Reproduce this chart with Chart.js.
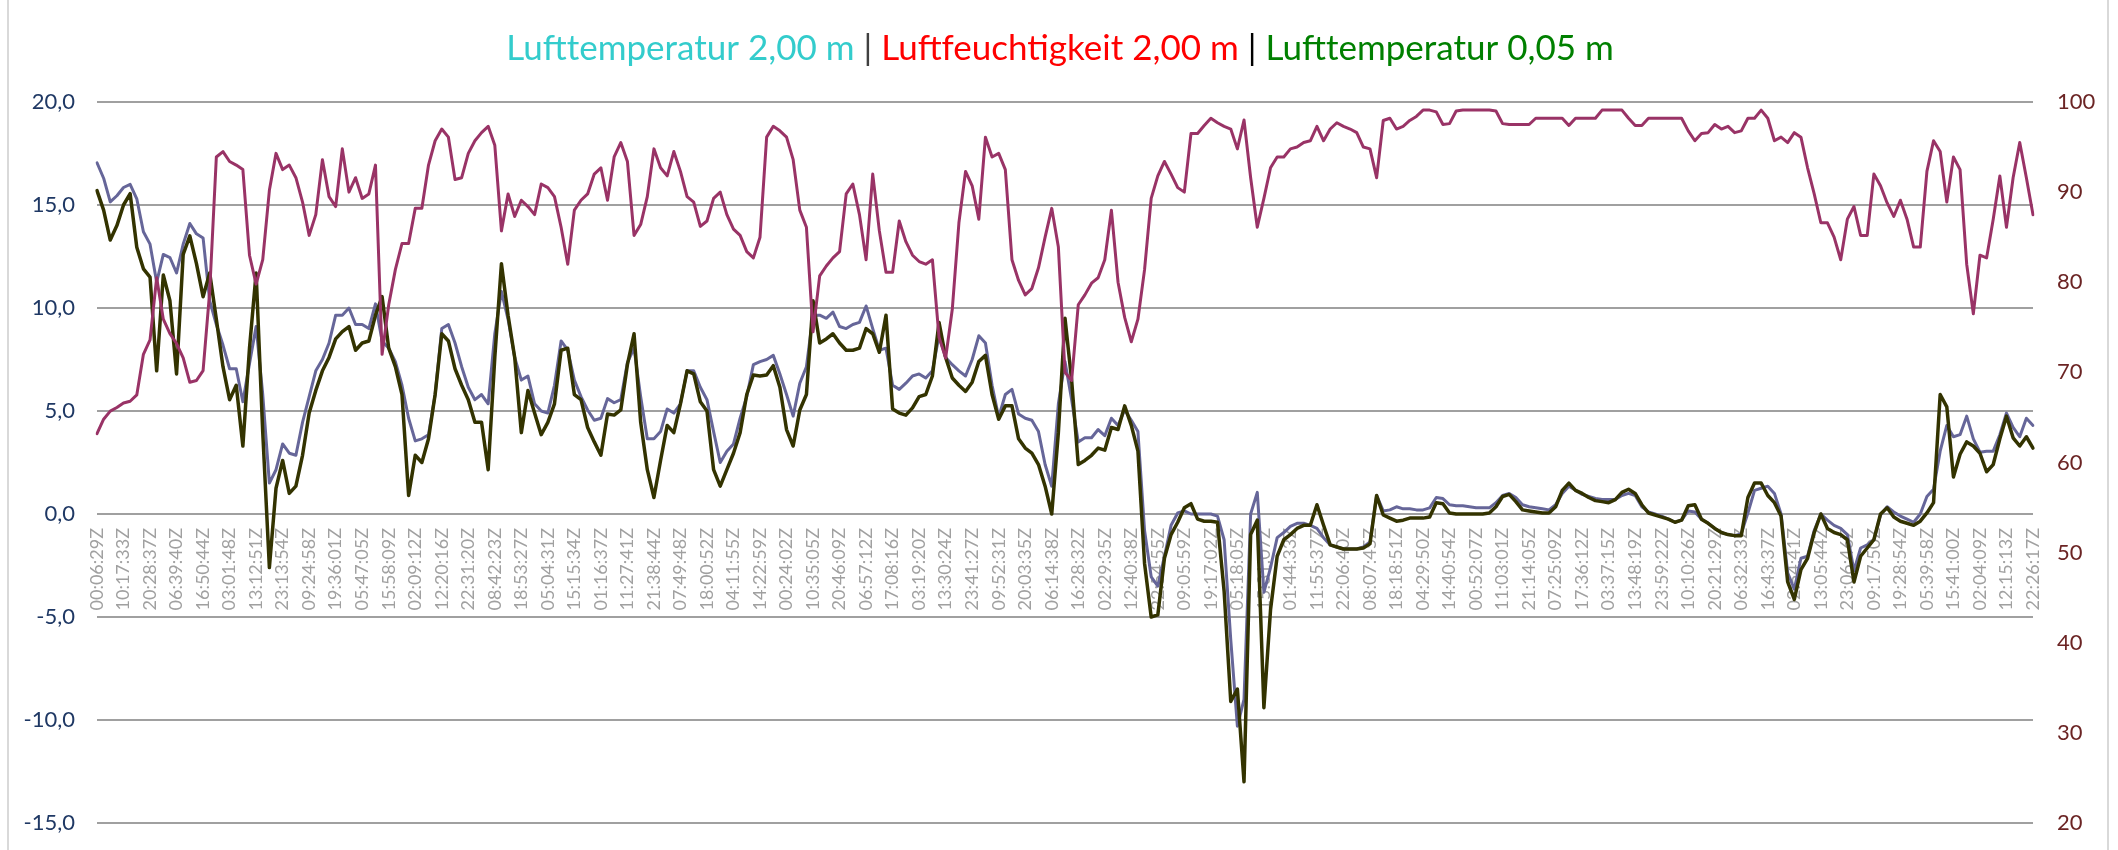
<!DOCTYPE html>
<html>
<head>
<meta charset="utf-8">
<script src="https://cdn.jsdelivr.net/npm/chart.js@4.4.1/dist/chart.umd.min.js"></script>
<style>
  html, body { margin: 0; padding: 0; background: #fff; }
  #wrap { position: relative; width: 2118px; height: 850px; }
</style>
</head>
<body>
<div id="wrap"><canvas id="chart"></canvas></div>
<script>
// x axis: one label every 4 readings
const tickLabels = [
  "00:06:29Z","10:17:33Z","20:28:37Z","06:39:40Z","16:50:44Z","03:01:48Z","13:12:51Z","23:13:54Z","09:24:58Z","19:36:01Z",
  "05:47:05Z","15:58:09Z","02:09:12Z","12:20:16Z","22:31:20Z","08:42:23Z","18:53:27Z","05:04:31Z","15:15:34Z","01:16:37Z",
  "11:27:41Z","21:38:44Z","07:49:48Z","18:00:52Z","04:11:55Z","14:22:59Z","00:24:02Z","10:35:05Z","20:46:09Z","06:57:12Z",
  "17:08:16Z","03:19:20Z","13:30:24Z","23:41:27Z","09:52:31Z","20:03:35Z","06:14:38Z","16:28:32Z","02:29:35Z","12:40:38Z",
  "22:54:55Z","09:05:59Z","19:17:02Z","05:18:05Z","15:31:07Z","01:44:33Z","11:55:37Z","22:06:40Z","08:07:45Z","18:18:51Z",
  "04:29:50Z","14:40:54Z","00:52:07Z","11:03:01Z","21:14:05Z","07:25:09Z","17:36:12Z","03:37:15Z","13:48:19Z","23:59:22Z",
  "10:10:26Z","20:21:29Z","06:32:33Z","16:43:37Z","02:54:41Z","13:05:44Z","23:06:46Z","09:17:50Z","19:28:54Z","05:39:58Z",
  "15:41:00Z","02:04:09Z","12:15:13Z","22:26:17Z"
];
const pointsPerTick = 4;

// Lufttemperatur 2,00 m (left axis, °C)
const temp200 = [
  17.05,16.3,15.15,15.45,15.85,16.0,15.3,13.7,13.1,11.25,
  12.6,12.45,11.7,13.1,14.1,13.6,13.4,10.35,9.2,8.2,
  7.05,7.05,5.45,7.3,9.1,5.8,1.5,2.15,3.4,2.95,
  2.85,4.45,5.7,6.95,7.5,8.3,9.65,9.65,10.0,9.2,
  9.2,9.0,10.2,8.4,8.05,7.4,6.25,4.65,3.55,3.65,
  3.85,5.8,9.0,9.2,8.3,7.15,6.15,5.55,5.8,5.35,
  8.75,10.8,9.45,7.6,6.5,6.7,5.35,5.0,4.9,6.25,
  8.4,7.95,6.5,
  5.7,5.05,4.55,4.65,5.6,5.4,5.55,7.35,8.05,5.7,
  3.65,3.65,4.0,5.1,4.9,5.35,6.95,6.95,6.15,5.55,
  4.0,2.5,3.05,3.4,4.65,5.7,7.25,7.4,7.5,7.7,
  6.8,5.8,4.75,6.35,7.15,9.65,9.65,9.5,9.8,9.1,
  9.0,9.2,9.3,10.1,9.0,7.95,8.05,6.25,6.05,6.35,
  6.7,6.8,6.6,6.95,8.65,7.6,7.25,6.95,6.7,7.5,
  8.65,8.3,6.25,4.7,5.8,6.05,4.85,4.65,4.55,4.0,
  2.4,1.35,5.35,
  7.4,5.55,3.5,3.7,3.7,4.1,3.8,4.65,4.3,5.05,
  4.55,4.0,-0.8,-3.05,-3.5,-2.05,-0.55,0.05,0.15,0.0,
  0.0,0.0,0.0,-0.1,-1.25,-6.1,-10.3,-9.0,0.0,1.05,
  -3.8,-2.6,-1.15,-0.9,-0.6,-0.45,-0.45,-0.55,-0.7,-1.15,
  -1.5,-1.6,-1.7,-1.7,-1.7,-1.6,-1.35,0.9,0.15,0.2,
  0.35,0.25,0.25,0.2,0.2,0.3,0.8,0.75,0.45,0.4,
  0.4,0.35,0.3,0.3,0.3,0.55,0.9,1.0,0.8,0.45,
  0.35,0.3,0.25,0.2,
  0.45,1.0,1.35,1.15,0.95,0.85,0.75,0.7,0.7,0.7,
  0.9,1.0,0.9,0.35,0.1,0.0,-0.1,-0.25,-0.4,-0.3,
  0.15,0.1,-0.25,-0.45,-0.7,-0.9,-1.0,-1.05,-0.95,0.05,
  1.15,1.25,1.35,1.0,0.0,-2.85,-3.65,-2.15,-2.05,-0.8,
  0.0,-0.3,-0.55,-0.7,-1.0,-2.75,-1.65,-1.5,-1.25,-0.05,
  0.35,0.1,-0.1,-0.25,-0.4,0.0,0.85,1.2,3.05,4.3,
  3.75,3.85,4.75,3.65,3.0,3.05,3.05,3.85,4.9,4.2,
  3.75,4.65,4.3
];

// Luftfeuchtigkeit 2,00 m (right axis, %)
const humidity200 = [
  63.2,64.8,65.7,66.1,66.6,66.8,67.5,72.0,73.6,80.5,
  75.9,74.3,73.2,71.6,68.9,69.1,70.2,79.0,93.9,94.5,
  93.4,93.0,92.5,83.0,79.8,82.5,90.2,94.3,92.5,93.0,
  91.6,88.9,85.2,87.5,93.6,89.5,88.4,94.8,90.0,91.6,
  89.3,89.8,93.0,72.0,77.5,81.4,84.3,84.3,88.2,88.2,
  93.0,95.7,97.0,96.1,91.4,91.6,94.3,95.7,96.6,97.3,
  95.2,85.7,89.8,87.3,89.1,88.4,87.5,90.9,90.5,89.5,
  86.1,82.0,88.0,
  89.1,89.8,92.0,92.7,89.1,93.9,95.5,93.4,85.2,86.4,
  89.5,94.8,92.7,91.8,94.5,92.3,89.5,88.9,86.2,86.8,
  89.3,90.0,87.5,85.9,85.2,83.4,82.7,85.0,96.1,97.3,
  96.8,96.1,93.6,88.0,86.1,74.5,80.7,81.8,82.7,83.4,
  89.8,90.9,87.5,82.5,92.0,85.7,81.1,81.1,86.8,84.5,
  83.0,82.3,82.0,82.5,73.9,71.6,77.0,86.6,92.3,90.7,
  87.0,96.1,93.9,94.3,92.5,82.5,80.2,78.6,79.3,81.6,
  85.0,88.2,83.9,
  70.0,69.1,77.5,78.6,79.9,80.5,82.5,88.0,80.0,76.1,
  73.4,75.9,81.4,89.3,91.8,93.4,92.0,90.5,90.0,96.5,
  96.5,97.4,98.2,97.7,97.3,97.0,94.8,98.0,91.6,86.1,
  89.3,92.7,93.9,93.9,94.8,95.0,95.5,95.7,97.3,95.7,
  97.0,97.7,97.3,97.0,96.6,95.0,94.8,91.6,97.95,98.2,
  97.0,97.3,97.95,98.4,99.1,99.1,98.9,97.5,97.6,99.0,
  99.1,99.1,99.1,99.1,99.1,99.0,97.6,97.5,97.5,97.5,
  97.5,98.2,98.2,98.2,
  98.2,98.2,97.4,98.2,98.2,98.2,98.2,99.1,99.1,99.1,
  99.1,98.2,97.4,97.4,98.2,98.2,98.2,98.2,98.2,98.2,
  96.8,95.7,96.5,96.6,97.5,97.0,97.3,96.6,96.8,98.2,
  98.2,99.1,98.2,95.7,96.1,95.5,96.6,96.1,92.7,89.8,
  86.6,86.6,85.0,82.5,87.0,88.4,85.2,85.2,92.0,90.7,
  88.8,87.3,89.1,87.0,83.9,83.9,92.3,95.7,94.5,88.9,
  93.9,92.5,82.0,76.5,83.0,82.7,87.0,91.8,86.1,91.6,
  95.5,91.6,87.5
];

// Lufttemperatur 0,05 m (left axis, °C)
const temp005 = [
  15.7,14.75,13.3,14.0,15.0,15.55,12.95,11.9,11.5,6.95,
  11.6,10.35,6.8,12.6,13.5,12.15,10.55,11.7,9.45,7.15,
  5.55,6.25,3.3,8.05,11.7,3.95,-2.6,1.25,2.6,1.0,
  1.35,2.85,4.9,6.0,6.95,7.6,8.5,8.85,9.1,7.95,
  8.3,8.4,9.65,10.55,8.05,7.15,5.8,0.9,2.85,2.5,
  3.65,5.8,8.75,8.4,7.05,6.25,5.55,4.45,4.45,2.15,
  7.6,12.15,9.65,7.6,3.95,6.0,4.9,3.85,4.45,5.35,
  7.95,8.05,5.8,
  5.55,4.2,3.5,2.85,4.85,4.8,5.05,7.25,8.75,4.45,
  2.15,0.8,2.6,4.3,3.95,5.35,6.95,6.8,5.45,5.0,
  2.15,1.35,2.15,2.95,3.95,5.8,6.75,6.7,6.75,7.2,
  6.15,4.1,3.3,5.05,5.8,10.35,8.3,8.5,8.75,8.3,
  7.95,7.95,8.05,9.0,8.75,7.85,9.65,5.1,4.9,4.8,
  5.15,5.7,5.8,6.7,9.3,7.6,6.6,6.25,5.95,6.4,
  7.4,7.7,5.8,4.6,5.25,5.25,3.65,3.2,2.95,2.4,
  1.35,0.0,3.95,
  9.5,6.5,2.4,2.6,2.85,3.2,3.1,4.2,4.1,5.25,
  4.3,3.05,-2.4,-5.0,-4.9,-2.15,-1.0,-0.4,0.3,0.5,
  -0.25,-0.35,-0.35,-0.4,-3.75,-9.1,-8.5,-13.0,-1.0,-0.3,
  -9.4,-4.65,-2.05,-1.25,-1.0,-0.7,-0.55,-0.55,0.45,-0.55,
  -1.5,-1.6,-1.7,-1.7,-1.7,-1.65,-1.45,0.9,-0.05,-0.2,
  -0.35,-0.3,-0.2,-0.2,-0.2,-0.15,0.55,0.5,0.05,0.0,
  0.0,0.0,0.0,0.0,0.05,0.35,0.85,0.95,0.6,0.2,
  0.15,0.1,0.05,0.05,
  0.35,1.15,1.5,1.15,1.0,0.8,0.65,0.6,0.55,0.7,
  1.05,1.2,1.0,0.45,0.05,-0.05,-0.15,-0.25,-0.4,-0.3,
  0.4,0.45,-0.25,-0.45,-0.7,-0.9,-1.0,-1.05,-1.05,0.8,
  1.5,1.5,0.9,0.55,-0.1,-3.3,-4.15,-2.7,-2.15,-0.9,
  0.0,-0.7,-0.9,-1.0,-1.25,-3.3,-2.05,-1.65,-1.25,0.0,
  0.3,-0.15,-0.35,-0.45,-0.55,-0.35,0.05,0.55,5.8,5.2,
  1.8,2.9,3.5,3.3,2.95,2.05,2.4,3.65,4.75,3.7,
  3.3,3.75,3.2
];

const leftTicks = [-15, -10, -5, 0, 5, 10, 15, 20];
const rightTicks = [20, 30, 40, 50, 60, 70, 80, 90, 100];

const titleParts = [
  { text: "Lufttemperatur 2,00 m", color: "#33CCCC" },
  { text: " | ", color: "#404040" },
  { text: "Luftfeuchtigkeit 2,00 m", color: "#FF0000" },
  { text: " | ", color: "#000000" },
  { text: "Lufttemperatur 0,05 m", color: "#008000" }
];

const FONT = "Lato, 'Open Sans', sans-serif";
const CLEAR = "rgba(0,0,0,0)";

// category labels: tick text on every 4th reading
const labels = temp200.map((_, i) => (i % pointsPerTick === 0 ? tickLabels[i / pointsPerTick] || "" : ""));

// title in several colours + the chart frame
const decorPlugin = {
  id: "decor",
  beforeDraw(chart) {
    const ctx = chart.ctx;
    ctx.save();
    ctx.strokeStyle = "#D9D9D9";
    ctx.lineWidth = 2;
    ctx.strokeRect(8, -10, 2100, 880);
    ctx.restore();
  },
  afterDraw(chart) {
    const ctx = chart.ctx;
    ctx.save();
    ctx.font = "35px " + FONT;
    ctx.textBaseline = "alphabetic";
    ctx.textAlign = "left";
    const total = titleParts.reduce((w, p) => w + ctx.measureText(p.text).width, 0);
    let x = 1060 - total / 2;
    titleParts.forEach(p => {
      ctx.fillStyle = p.color;
      ctx.fillText(p.text, x, 60);
      x += ctx.measureText(p.text).width;
    });
    ctx.restore();
  }
};

new Chart(document.getElementById("chart"), {
  type: "line",
  data: {
    labels: labels,
    datasets: [
      {
        label: "Luftfeuchtigkeit 2,00 m",
        data: humidity200,
        yAxisID: "y1",
        borderColor: "#993366",
        borderWidth: 3
      },
      {
        label: "Lufttemperatur 0,05 m",
        data: temp005,
        yAxisID: "y",
        borderColor: "#333300",
        borderWidth: 3.5
      },
      {
        label: "Lufttemperatur 2,00 m",
        data: temp200,
        yAxisID: "y",
        borderColor: "#666699",
        borderWidth: 3
      }
    ]
  },
  options: {
    responsive: true,
    maintainAspectRatio: false,
    devicePixelRatio: 1,
    animation: false,
    layout: { padding: { top: 102, bottom: 27, left: 0, right: 0 } },
    elements: {
      point: { radius: 0, hoverRadius: 0 },
      line: { tension: 0, borderJoinStyle: "round", borderCapStyle: "round" }
    },
    plugins: {
      legend: { display: false },
      tooltip: { enabled: false },
      title: { display: false }
    },
    scales: {
      x: {
        position: { y: 0 },
        offset: false,
        grid: { display: false, drawTicks: false },
        border: { display: false },
        ticks: {
          autoSkip: false,
          minRotation: 90,
          maxRotation: 90,
          padding: 14,
          color: "#A0A0A0",
          font: { family: FONT, size: 18 }
        }
      },
      y: {
        position: "left",
        min: -15,
        max: 20,
        afterBuildTicks: s => { s.ticks = leftTicks.map(v => ({ value: v })); },
        afterFit: s => { s.width = 97; },
        grid: { color: "#A0A0A0", lineWidth: 2, drawTicks: true, tickLength: 22, tickColor: CLEAR },
        border: { display: false },
        ticks: {
          padding: 0,
          color: "#1F3864",
          font: { family: FONT, size: 22 },
          callback: v => v.toFixed(1).replace(".", ",")
        }
      },
      y1: {
        position: "right",
        min: 20,
        max: 100,
        afterBuildTicks: s => { s.ticks = rightTicks.map(v => ({ value: v })); },
        afterFit: s => { s.width = 85; },
        grid: { display: true, drawOnChartArea: false, color: CLEAR, drawTicks: true, tickLength: 24, tickColor: CLEAR },
        border: { display: false },
        ticks: {
          padding: 0,
          color: "#6B2424",
          font: { family: FONT, size: 22 }
        }
      }
    }
  },
  plugins: [decorPlugin]
});
</script>
</body>
</html>
